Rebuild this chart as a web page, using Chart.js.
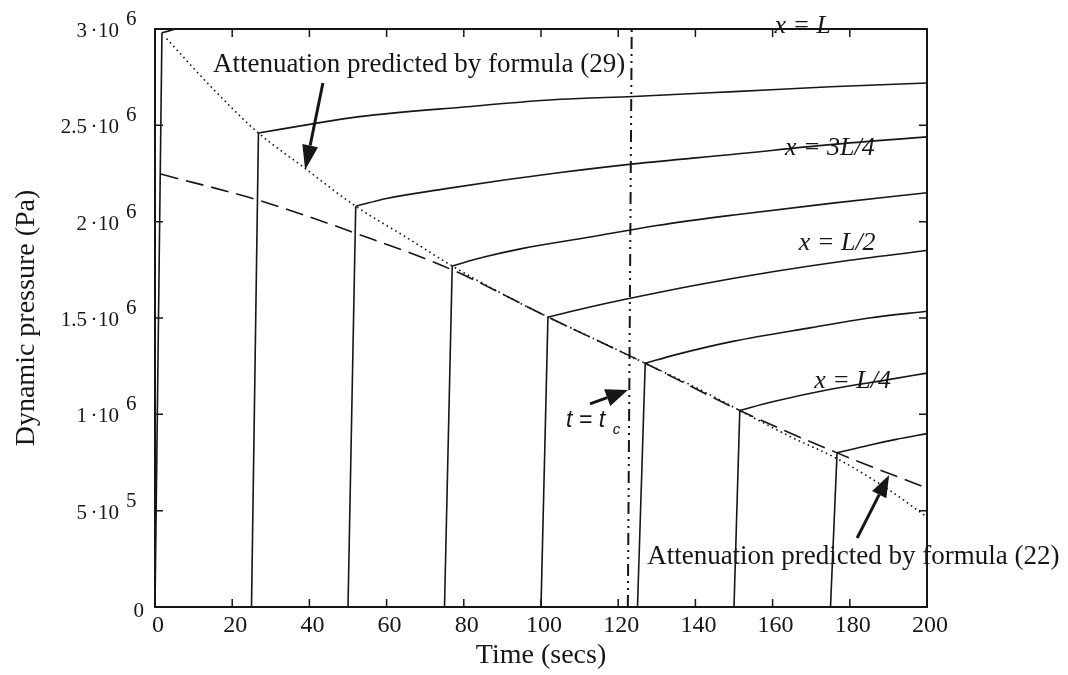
<!DOCTYPE html>
<html>
<head>
<meta charset="utf-8">
<title>Dynamic pressure vs time</title>
<script src="https://cdn.jsdelivr.net/npm/chart.js@4.4.1/dist/chart.umd.min.js"></script>
<style>
  html, body { margin: 0; padding: 0; background: #fff; }
  canvas { display: block; }
</style>
</head>
<body>
<canvas id="myChart" width="1068" height="675"></canvas>
<script>
const ink = '#161616';

const xTicks = [0, 20, 40, 60, 80, 100, 120, 140, 160, 180, 200];
const yTicks = [0, 5e5, 1e6, 1.5e6, 2e6, 2.5e6, 3e6];
const yMantissa = ['0', '5', '1', '1.5', '2', '2.5', '3'];
const yExponent = ['', '5', '6', '6', '6', '6', '6'];

// time (s) where each front leaves the axis
const arrivalTimes = [0, 25, 50, 75, 100, 125, 150, 175];

// pressure build-up after each jump (time in s, pressure in Pa)
const t1 = [1.8, 20, 200];
const p1 = [2.98e6, 3.08e6, 3.3e6];
const t2 = [26.8, 40, 53, 80, 105, 124, 150, 175, 200];
const p2 = [2.46e6, 2.505e6, 2.545e6, 2.595e6, 2.635e6, 2.65e6, 2.675e6, 2.70e6, 2.72e6];
const t3 = [52, 60, 75, 90, 105, 124, 150, 175, 200];
const p3 = [2.08e6, 2.12e6, 2.17e6, 2.215e6, 2.255e6, 2.30e6, 2.35e6, 2.40e6, 2.44e6];
const t4 = [77, 85, 95, 112.7, 130, 150, 175, 200];
const p4 = [1.77e6, 1.815e6, 1.86e6, 1.92e6, 1.98e6, 2.035e6, 2.095e6, 2.15e6];
const t5 = [101.8, 112.7, 125, 140, 160, 180, 200];
const p5 = [1.505e6, 1.557e6, 1.61e6, 1.67e6, 1.74e6, 1.80e6, 1.85e6];
const t6 = [127, 135, 150, 170, 185, 200];
const p6 = [1.265e6, 1.31e6, 1.38e6, 1.45e6, 1.50e6, 1.535e6];
const t7 = [151.5, 160, 175, 190, 200];
const p7 = [1.02e6, 1.065e6, 1.13e6, 1.18e6, 1.214e6];
const t8 = [176.7, 185, 192, 200];
const p8 = [0.80e6, 0.84e6, 0.87e6, 0.90e6];

// attenuation, formula (22) - dashed
const eq22Times = [1.5, 27, 52, 77, 101.8, 127, 151.5, 176.7, 200];
const eq22Pressure = [2.247e6, 2.11e6, 1.94e6, 1.75e6, 1.505e6, 1.265e6, 1.02e6, 0.80e6, 0.617e6];

// attenuation, formula (29) - dotted
const eq29Times = [3, 15, 26.8, 38, 52, 65, 77, 90, 101.8, 115, 127, 140, 151.5, 165, 176.7, 190, 200];
const eq29Pressure = [2.95e6, 2.69e6, 2.46e6, 2.29e6, 2.08e6, 1.92e6, 1.77e6, 1.625e6, 1.505e6,
                      1.38e6, 1.265e6, 1.14e6, 1.02e6, 0.88e6, 0.77e6, 0.61e6, 0.467e6];

// critical time t = tc
const tcTimes = [122.5, 123.5];
const tcPressure = [0, 3e6];

const curveTimes = [t1, t2, t3, t4, t5, t6, t7, t8];
const curvePressures = [p1, p2, p3, p4, p5, p6, p7, p8];

const toPoints = (ts, ps) => ts.map((t, i) => ({x: t, y: ps[i]}));

const lineStyle = {
    showLine: true,
    borderColor: ink,
    borderWidth: 1.6,
    pointRadius: 0,
    pointHoverRadius: 0,
    fill: false
};

const datasets = [];
for (let i = 0; i < curveTimes.length; i++) {
    // the jump
    datasets.push(Object.assign({}, lineStyle, {
        data: [{x: arrivalTimes[i], y: 0}, {x: curveTimes[i][0], y: curvePressures[i][0]}]
    }));
    // the slow build-up
    datasets.push(Object.assign({}, lineStyle, {
        data: toPoints(curveTimes[i], curvePressures[i]),
        cubicInterpolationMode: 'monotone'
    }));
}
datasets.push(Object.assign({}, lineStyle, {
    data: toPoints(eq22Times, eq22Pressure),
    borderDash: [18, 8],
    borderWidth: 1.6,
    cubicInterpolationMode: 'monotone'
}));
datasets.push(Object.assign({}, lineStyle, {
    data: toPoints(eq29Times, eq29Pressure),
    borderDash: [1.6, 3.4],
    borderWidth: 1.6,
    cubicInterpolationMode: 'monotone'
}));
datasets.push(Object.assign({}, lineStyle, {
    data: toPoints(tcTimes, tcPressure),
    borderDash: [12, 5, 2, 5, 2, 5],
    borderWidth: 2
}));

function drawArrow(ctx, x0, y0, x1, y1, head, half) {
    const ang = Math.atan2(y1 - y0, x1 - x0);
    const bx = x1 - head * Math.cos(ang);
    const by = y1 - head * Math.sin(ang);
    ctx.lineWidth = 3;
    ctx.beginPath();
    ctx.moveTo(x0, y0);
    ctx.lineTo(bx, by);
    ctx.stroke();
    ctx.beginPath();
    ctx.moveTo(x1, y1);
    ctx.lineTo(bx + half * Math.sin(ang), by - half * Math.cos(ang));
    ctx.lineTo(bx - half * Math.sin(ang), by + half * Math.cos(ang));
    ctx.closePath();
    ctx.fill();
}

const paper = {
    id: 'paper',
    beforeDraw(chart) {
        const ctx = chart.ctx;
        ctx.save();
        ctx.fillStyle = '#fff';
        ctx.fillRect(0, 0, chart.width, chart.height);
        ctx.restore();
    },
    afterDatasetsDraw(chart) {
        const {ctx, chartArea: a, scales: {x, y}} = chart;
        const px = v => x.getPixelForValue(v);
        const py = v => y.getPixelForValue(v);
        ctx.save();
        ctx.strokeStyle = ink;
        ctx.fillStyle = ink;

        // frame
        ctx.lineWidth = 2;
        ctx.strokeRect(a.left, a.top, a.right - a.left, a.bottom - a.top);

        // inward ticks on all four sides
        ctx.lineWidth = 1.5;
        ctx.beginPath();
        xTicks.forEach(v => {
            ctx.moveTo(px(v), a.bottom); ctx.lineTo(px(v), a.bottom - 8);
            ctx.moveTo(px(v), a.top); ctx.lineTo(px(v), a.top + 8);
        });
        yTicks.forEach(v => {
            ctx.moveTo(a.left, py(v)); ctx.lineTo(a.left + 8, py(v));
            ctx.moveTo(a.right, py(v)); ctx.lineTo(a.right - 8, py(v));
        });
        ctx.stroke();

        // x tick labels
        ctx.font = '24px "Liberation Serif"';
        ctx.textAlign = 'center';
        ctx.textBaseline = 'alphabetic';
        xTicks.forEach(v => ctx.fillText(String(v), px(v) + 3, a.bottom + 25));

        // y tick labels, m·10^e
        ctx.font = '21px "Liberation Serif"';
        yTicks.forEach((v, i) => {
            const base = py(v) + 8;
            if (yExponent[i] === '') {
                ctx.textAlign = 'right';
                ctx.fillText(yMantissa[i], a.left - 11, base + 2);
                return;
            }
            ctx.textAlign = 'right';
            ctx.fillText('10', a.left - 36, base);
            ctx.textAlign = 'center';
            ctx.fillText('\u00b7', a.left - 61, base);
            ctx.textAlign = 'right';
            ctx.fillText(yMantissa[i], a.left - 68, base);
            ctx.textAlign = 'left';
            ctx.fillText(yExponent[i], a.left - 29, base - 12);
        });

        // axis titles
        ctx.font = '28px "Liberation Serif"';
        ctx.textAlign = 'center';
        ctx.fillText('Time (secs)', (a.left + a.right) / 2, a.bottom + 56);
        ctx.save();
        ctx.translate(34, (a.top + a.bottom) / 2);
        ctx.rotate(-Math.PI / 2);
        ctx.fillText('Dynamic pressure (Pa)', 0, 0);
        ctx.restore();

        // annotations
        ctx.textAlign = 'left';
        ctx.font = '27px "Liberation Serif"';
        ctx.fillText('Attenuation predicted by formula (29)', px(15), py(2.777e6));
        ctx.fillText('Attenuation predicted by formula (22)', px(127.5), py(0.223e6));

        ctx.font = 'italic 26px "Liberation Serif"';
        ctx.fillText('x = L', px(160.5), py(2.979e6));
        ctx.fillText('x = 3L/4', px(163.2), py(2.346e6));
        ctx.fillText('x = L/2', px(166.8), py(1.853e6));
        ctx.fillText('x = L/4', px(170.8), py(1.137e6));

        ctx.font = 'italic 23px "Liberation Sans"';
        ctx.fillText('t = t', px(106.5), py(0.934e6));
        ctx.font = 'italic 15px "Liberation Sans"';
        ctx.fillText('c', px(118.6), py(0.898e6));

        drawArrow(ctx, px(43.5), py(2.72e6), px(38.9), py(2.268e6), 25, 8);
        drawArrow(ctx, px(112.7), py(1.054e6), px(122.5), py(1.126e6), 22, 9);
        drawArrow(ctx, px(181.9), py(0.358e6), px(190.2), py(0.685e6), 22, 8);
        ctx.restore();
    }
};

new Chart(document.getElementById('myChart'), {
    type: 'scatter',
    data: {datasets: datasets},
    options: {
        responsive: false,
        animation: false,
        devicePixelRatio: 1,
        events: [],
        layout: {padding: {left: 155, right: 141, top: 29, bottom: 68}},
        plugins: {legend: {display: false}, tooltip: {enabled: false}},
        scales: {
            x: {type: 'linear', min: 0, max: 200, display: false},
            y: {type: 'linear', min: 0, max: 3e6, display: false}
        }
    },
    plugins: [paper]
});
</script>
</body>
</html>
